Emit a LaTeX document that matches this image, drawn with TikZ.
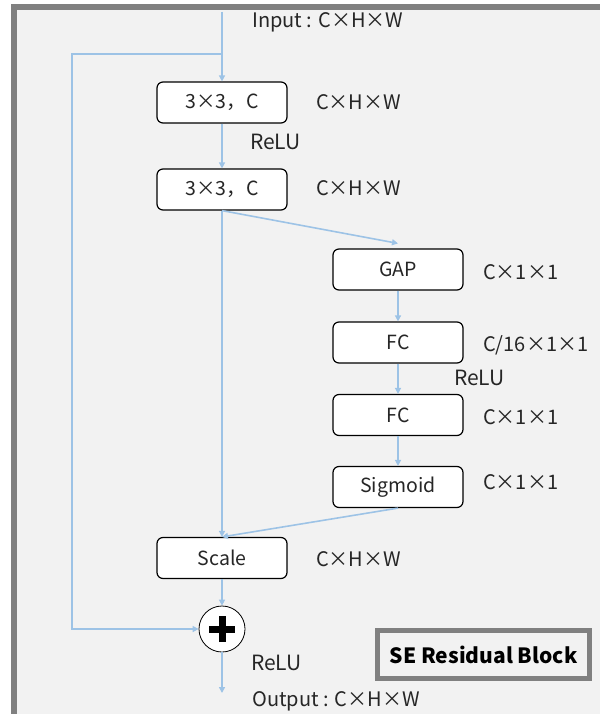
\documentclass[tikz,border=0pt]{standalone}
\usepackage{fontspec}
\setmainfont{Noto Sans CJK SC}
\usetikzlibrary{arrows.meta}
\definecolor{arrowblue}{HTML}{9DC3E6}
\definecolor{framegray}{HTML}{808080}
\definecolor{panel}{HTML}{F2F2F2}
\definecolor{txt}{HTML}{262626}
\begin{document}
\begin{tikzpicture}[x=1pt,y=-1pt,
  flow/.style={draw=arrowblue, line width=1.6pt, -{Triangle[length=6pt,width=6pt]}},
  block/.style={draw=black, line width=1.2pt, fill=white, rounded corners=6pt,
    minimum width=130pt, minimum height=41pt, inner sep=0pt,
    font=\fontsize{19.5}{19.5}\selectfont, text=txt},
  lab/.style={anchor=west, inner sep=0pt, font=\fontsize{20}{20}\selectfont, text=txt},
  plusbar/.style={line width=7pt, black},
]
% canvas, outer frame and panel
\useasboundingbox (0,0) rectangle (600,714);
\fill[white] (0,0) rectangle (600,714);
\fill[framegray] (11,4) rectangle (600,714);
\fill[panel] (17,10) rectangle (600,714);

% blocks
\node[block] (c1) at (222,102.5) {3×3，C};
\node[block] (c2) at (222,189.5) {3×3，C};
\node[block] (gap) at (398,269.5) {GAP};
\node[block] (fc1) at (398,342.5) {FC};
\node[block] (fc2) at (398,415) {FC};
\node[block] (sig) at (398,487) {Sigmoid};
\node[block] (scale) at (222,558) {Scale};
\node[circle, draw=black, line width=0.8pt, fill=white, minimum size=46pt, inner sep=0pt] (add) at (222,629) {};
\draw[plusbar] ([xshift=-13pt]add.center) -- ([xshift=13pt]add.center);
\draw[plusbar] ([yshift=-13pt]add.center) -- ([yshift=13pt]add.center);

% labels
\node[lab] (inp) at (252,22) {Input : C×H×W};
\node[lab] (l1) at (316,102) {C×H×W};
\node[lab, font=\fontsize{21}{21}\selectfont] (r1) at (250,142) {ReLU};
\node[lab] (l2) at (316,188) {C×H×W};
\node[lab] (l3) at (483,272) {C×1×1};
\node[lab] (l4) at (483,345) {C/16×1×1};
\node[lab, font=\fontsize{21}{21}\selectfont] (r2) at (454,378) {ReLU};
\node[lab] (l5) at (483,417) {C×1×1};
\node[lab] (l6) at (483,482) {C×1×1};
\node[lab] (l7) at (316,559) {C×H×W};
\node[lab, font=\fontsize{21}{21}\selectfont] (r3) at (251,663) {ReLU};
\node[lab] (outp) at (252,701) {Output : C×H×W};

% title box
\node[draw=framegray, line width=5pt, fill=panel, minimum width=212pt, minimum height=48pt,
  inner sep=0pt, font=\bfseries\fontsize{21}{21}\selectfont, text=black] (se) at (483.5,654.5) {SE Residual Block};

% connectors
\coordinate (top) at (222,12);
\coordinate (split) at (222,54);
\coordinate (bend) at (72,54);
\coordinate (out) at (222,693);
\draw[flow] (top) -- (c1.north);
\draw[flow] (split) -- (bend) |- (add.west);
\draw[flow] (c1.south) -- (c2.north);
\draw[flow] (c2.south) -- (scale.north);
\draw[flow] (c2.south) -- ([yshift=5pt]gap.north);
\draw[flow] (gap.south) -- (fc1.north);
\draw[flow] (fc1.south) -- (fc2.north);
\draw[flow] (fc2.south) -- (sig.north);
\draw[flow] (sig.south) -- (scale.north);
\draw[flow] (scale.south) -- (add.north);
\draw[flow] (add.south) -- (out);
\end{tikzpicture}
\end{document}
